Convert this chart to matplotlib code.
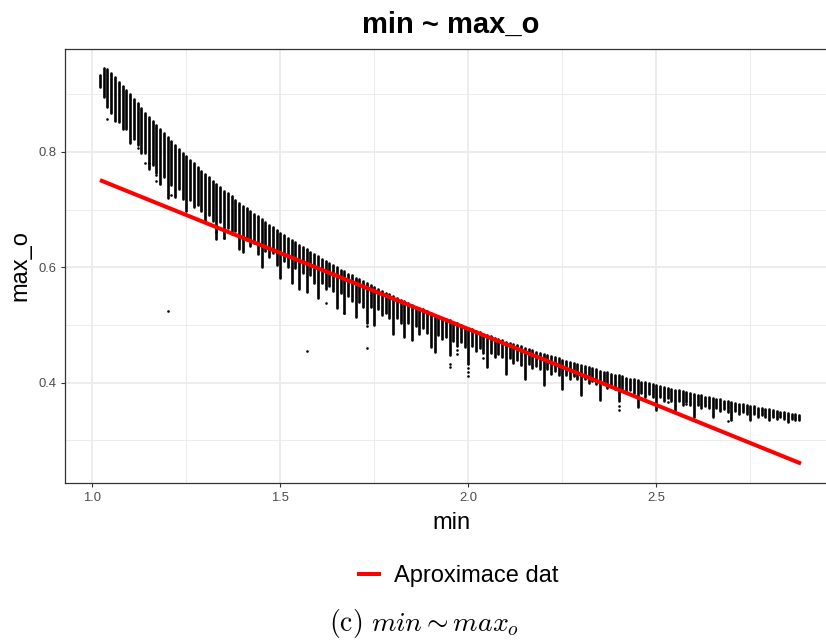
import numpy as np
import matplotlib
matplotlib.use('Agg')
import matplotlib.pyplot as plt

plt.rcParams['font.family'] = ['Liberation Sans', 'DejaVu Sans']
plt.rcParams['mathtext.fontset'] = 'cm'

# columns of points: each "min" value has a stack of max_o values
col_x = [1.02, 1.03, 1.04, 1.05, 1.06, 1.07, 1.08, 1.09,
         1.10, 1.11, 1.12, 1.13, 1.14, 1.15, 1.16, 1.17, 1.18, 1.19,
         1.20, 1.21, 1.22, 1.23, 1.24, 1.25, 1.26, 1.27, 1.28, 1.29,
         1.30, 1.31, 1.32, 1.33, 1.34, 1.35, 1.36, 1.37, 1.38, 1.39,
         1.40, 1.41, 1.42, 1.43, 1.44, 1.45, 1.46, 1.47, 1.48, 1.49,
         1.50, 1.51, 1.52, 1.53, 1.54, 1.55, 1.56, 1.57, 1.58, 1.59,
         1.60, 1.61, 1.62, 1.63, 1.64, 1.65, 1.66, 1.67, 1.68, 1.69,
         1.70, 1.71, 1.72, 1.73, 1.74, 1.75, 1.76, 1.77, 1.78, 1.79,
         1.80, 1.81, 1.82, 1.83, 1.84, 1.85, 1.86, 1.87, 1.88, 1.89,
         1.90, 1.91, 1.92, 1.93, 1.94, 1.95, 1.96, 1.97, 1.98, 1.99,
         2.00, 2.01, 2.02, 2.03, 2.04, 2.05, 2.06, 2.07, 2.08, 2.09,
         2.10, 2.11, 2.12, 2.13, 2.14, 2.15, 2.16, 2.17, 2.18, 2.19,
         2.20, 2.21, 2.22, 2.23, 2.24, 2.25, 2.26, 2.27, 2.28, 2.29,
         2.30, 2.31, 2.32, 2.33, 2.34, 2.35, 2.36, 2.37, 2.38, 2.39,
         2.40, 2.41, 2.42, 2.43, 2.44, 2.45, 2.46, 2.47, 2.48, 2.49,
         2.50, 2.51, 2.52, 2.53, 2.54, 2.55, 2.56, 2.57, 2.58, 2.59,
         2.60, 2.61, 2.62, 2.63, 2.64, 2.65, 2.66, 2.67, 2.68, 2.69,
         2.70, 2.71, 2.72, 2.73, 2.74, 2.75, 2.76, 2.77, 2.78, 2.79,
         2.80, 2.81, 2.82, 2.83, 2.84, 2.85, 2.86, 2.87, 2.88]

# highest max_o in each column
col_top = [0.933, 0.945, 0.943, 0.937, 0.929, 0.921, 0.914, 0.907,
           0.900, 0.892, 0.884, 0.876, 0.868, 0.861, 0.853, 0.846, 0.839, 0.832,
           0.825, 0.818, 0.811, 0.805, 0.798, 0.792, 0.786, 0.780, 0.773, 0.767,
           0.762, 0.756, 0.750, 0.744, 0.739, 0.733, 0.728, 0.723, 0.717, 0.712,
           0.707, 0.702, 0.697, 0.692, 0.688, 0.683, 0.678, 0.673, 0.669, 0.664,
           0.660, 0.656, 0.651, 0.647, 0.643, 0.639, 0.635, 0.631, 0.627, 0.623,
           0.619, 0.615, 0.611, 0.607, 0.604, 0.600, 0.596, 0.593, 0.589, 0.586,
           0.582, 0.579, 0.576, 0.572, 0.569, 0.566, 0.563, 0.559, 0.556, 0.553,
           0.550, 0.547, 0.544, 0.541, 0.538, 0.535, 0.532, 0.529, 0.527, 0.524,
           0.521, 0.518, 0.516, 0.513, 0.510, 0.508, 0.505, 0.503, 0.500, 0.497,
           0.495, 0.493, 0.490, 0.488, 0.485, 0.483, 0.481, 0.478, 0.476, 0.474,
           0.471, 0.469, 0.467, 0.465, 0.463, 0.460, 0.458, 0.456, 0.454, 0.452,
           0.450, 0.448, 0.446, 0.444, 0.442, 0.440, 0.438, 0.436, 0.434, 0.432,
           0.430, 0.429, 0.427, 0.425, 0.423, 0.421, 0.419, 0.418, 0.416, 0.414,
           0.413, 0.411, 0.409, 0.407, 0.406, 0.404, 0.402, 0.401, 0.399, 0.398,
           0.396, 0.394, 0.393, 0.391, 0.390, 0.388, 0.387, 0.385, 0.384, 0.382,
           0.381, 0.379, 0.378, 0.376, 0.375, 0.374, 0.372, 0.371, 0.369, 0.368,
           0.367, 0.365, 0.364, 0.363, 0.361, 0.360, 0.359, 0.357, 0.356, 0.355,
           0.354, 0.352, 0.351, 0.350, 0.349, 0.347, 0.346, 0.345, 0.344]

# how far each column reaches down below its top
col_spread = [0.020, 0.050, 0.065, 0.070, 0.075, 0.070, 0.075, 0.068,
              0.085, 0.070, 0.072, 0.078, 0.070, 0.090, 0.075, 0.083, 0.093, 0.075,
              0.105, 0.075, 0.090, 0.070, 0.080, 0.095, 0.070, 0.075, 0.065, 0.070,
              0.081, 0.065, 0.070, 0.095, 0.060, 0.083, 0.060, 0.065, 0.055, 0.081,
              0.080, 0.055, 0.060, 0.050, 0.065, 0.082, 0.050, 0.055, 0.045, 0.060,
              0.078, 0.045, 0.050, 0.075, 0.045, 0.076, 0.045, 0.074, 0.040, 0.050,
              0.073, 0.042, 0.048, 0.040, 0.045, 0.071, 0.040, 0.073, 0.038, 0.045,
              0.068, 0.040, 0.045, 0.068, 0.038, 0.066, 0.036, 0.042, 0.035, 0.040,
              0.065, 0.035, 0.040, 0.061, 0.034, 0.061, 0.034, 0.045, 0.032, 0.038,
              0.059, 0.065, 0.033, 0.038, 0.031, 0.060, 0.032, 0.040, 0.030, 0.035,
              0.062, 0.030, 0.035, 0.028, 0.033, 0.056, 0.029, 0.034, 0.027, 0.030,
              0.055, 0.027, 0.032, 0.026, 0.030, 0.053, 0.026, 0.031, 0.025, 0.028,
              0.054, 0.025, 0.030, 0.024, 0.028, 0.050, 0.024, 0.029, 0.023, 0.026,
              0.052, 0.023, 0.028, 0.022, 0.026, 0.051, 0.022, 0.027, 0.021, 0.024,
              0.045, 0.021, 0.026, 0.020, 0.024, 0.046, 0.020, 0.025, 0.019, 0.022,
              0.044, 0.019, 0.024, 0.018, 0.022, 0.036, 0.018, 0.023, 0.017, 0.020,
              0.040, 0.017, 0.021, 0.016, 0.019, 0.034, 0.016, 0.020, 0.015, 0.018,
              0.032, 0.014, 0.018, 0.013, 0.016, 0.024, 0.013, 0.016, 0.012, 0.014,
              0.019, 0.011, 0.013, 0.010, 0.011, 0.015, 0.009, 0.010, 0.008]

# loose single points under the columns
extra_x = [1.04, 1.12, 1.14, 1.15, 1.17, 1.17, 1.18, 1.21, 1.20, 1.33, 1.35,
           1.57, 1.62, 1.67, 1.73, 1.73, 1.95, 1.95, 1.97, 1.97, 2.00, 2.00,
           2.00, 2.04, 2.14, 2.40, 2.40, 2.53, 2.58, 2.69]
extra_y = [0.857, 0.806, 0.781, 0.781, 0.760, 0.750, 0.744, 0.725, 0.5245, 0.661, 0.650,
           0.455, 0.538, 0.520, 0.498, 0.460, 0.432, 0.427, 0.456, 0.450, 0.425, 0.418,
           0.411, 0.442, 0.430, 0.352, 0.360, 0.367, 0.363, 0.334]

# linear approximation
fit_x = [1.02, 2.885]
fit_y = [0.751, 0.260]

x_ticks = [1.0, 1.5, 2.0, 2.5]
x_tick_labels = ['1.0', '1.5', '2.0', '2.5']
y_ticks = [0.4, 0.6, 0.8]
y_tick_labels = ['0.4', '0.6', '0.8']

W, H = 826, 641
fig = plt.figure(figsize=(W / 100, H / 100), dpi=100)
ax = fig.add_axes([65 / W, 1 - 483.3 / H, 771 / W, (483.3 - 48.5) / H])
ax.set_xlim(0.927, 2.978)
ax.set_ylim(0.2258, 0.979)

ax.set_xticks(x_ticks)
ax.set_xticklabels(x_tick_labels)
ax.set_xticks([1.25, 1.75, 2.25, 2.75], minor=True)
ax.set_yticks(y_ticks)
ax.set_yticklabels(y_tick_labels)
ax.set_yticks([0.3, 0.5, 0.7, 0.9], minor=True)
ax.grid(which='major', color='#EBEBEB', linewidth=1.3)
ax.grid(which='minor', color='#EBEBEB', linewidth=0.65)
ax.set_axisbelow(True)
ax.tick_params(which='minor', length=0)
ax.tick_params(which='major', length=3.2, width=0.8, color='#333333',
               labelsize=9.4, labelcolor='#4D4D4D', pad=3)
for s in ax.spines.values():
    s.set_color('#333333')
    s.set_linewidth(0.9)

col_low = np.array(col_top) - np.array(col_spread)
lc = ax.vlines(col_x, col_low, col_top, colors='black', linewidth=1.9, zorder=2)
lc.set_capstyle('round')
ax.scatter(extra_x, extra_y, s=3.5, c='black', linewidths=0, zorder=2)
line, = ax.plot(fit_x, fit_y, color='#FF0000', linewidth=2.9, zorder=3,
                solid_capstyle='butt', label='Aproximace dat')

fig.text(451 / W, 1 - 33.3 / H, 'min ~ max_o', ha='center', va='baseline',
         fontsize=21, fontweight='bold')
fig.text(451 / W, 1 - 529 / H, 'min', ha='center', va='baseline', fontsize=17)
fig.text(20 / W, 1 - 266 / H, 'max_o', ha='center', va='center', fontsize=17,
         rotation=90)

fig.legend(handles=[line], loc='center', bbox_to_anchor=(457.5 / W, 1 - 576 / H),
           frameon=False, fontsize=17, handlelength=1.0, handletextpad=0.55)

fig.text(424 / W, 1 - 623 / H, r'$\mathrm{(c)}\ min \sim max_o$', ha='center',
         va='center', fontsize=20)

fig.savefig('out.png', dpi=100)
